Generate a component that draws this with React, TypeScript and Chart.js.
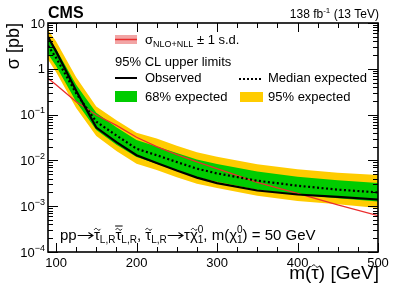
import React, { useEffect, useRef } from "react";
import { Chart, registerables } from "chart.js";

Chart.register(...registerables);

const FONT = '"Liberation Sans", Arial, Helvetica, sans-serif';

// Stau mass points (GeV)
const masses = [90, 100, 125, 150, 175, 200, 225, 250, 275, 300, 350, 400, 450, 500];
// 95% CL upper limits on the cross section (pb)
const observed = [5.0, 2.4, 0.33, 0.052, 0.025, 0.013, 0.0088, 0.006, 0.0042, 0.0032, 0.0022, 0.0018, 0.0016, 0.0014];
const expected = [3.2, 1.75, 0.29, 0.07, 0.035, 0.018, 0.013, 0.0092, 0.0066, 0.0052, 0.0036, 0.0028, 0.0023, 0.002];
const band68Up = [4.8, 2.7, 0.45, 0.11, 0.053, 0.028, 0.02, 0.0145, 0.0105, 0.0083, 0.0057, 0.0044, 0.0037, 0.0032];
const band68Down = [2.1, 1.15, 0.19, 0.046, 0.022, 0.0118, 0.0085, 0.006, 0.0043, 0.0034, 0.0023, 0.0018, 0.0015, 0.00126];
const band95Up = [7.0, 4.0, 0.65, 0.15, 0.075, 0.04, 0.03, 0.021, 0.015, 0.012, 0.0082, 0.0064, 0.0054, 0.0048];
const band95Down = [1.6, 0.85, 0.14, 0.034, 0.016, 0.0085, 0.0062, 0.0043, 0.0031, 0.0025, 0.0017, 0.0013, 0.0011, 0.00091];
// Theory cross section NLO+NLL (pb)
const theoryXsec = [0.62, 0.45, 0.19, 0.098, 0.058, 0.032, 0.02, 0.0134, 0.0093, 0.0066, 0.0033, 0.0019, 0.00107, 0.00062];

const xTickValues = [100, 200, 300, 400, 500];
const yTickValues = [1e-4, 1e-3, 1e-2, 1e-1, 1, 10];
const yTickBase = ["10", "10", "10", "10", "1", "10"];
const yTickExp = ["\u22124", "\u22123", "\u22122", "\u22121", "", ""];

const YELLOW = "#FFCC00";
const GREEN = "#00CC00";
const RED = "rgb(235,45,45)";
const PINK = "rgb(242,165,165)";

type Seg = {
  t?: string;
  size: number;
  dy?: number;
  bold?: boolean;
  acc?: "tilde" | "tildebar";
  sup?: string;
  sub?: string;
  arrow?: boolean;
};

function segWidth(ctx: CanvasRenderingContext2D, s: Seg) {
  ctx.font = `${s.bold ? "bold " : ""}${s.size}px ${FONT}`;
  if (s.arrow) return s.size * 1.15;
  if (s.sup !== undefined || s.sub !== undefined) {
    return Math.max(ctx.measureText(s.sup || "").width, ctx.measureText(s.sub || "").width);
  }
  return ctx.measureText(s.t || "").width;
}

function drawTilde(ctx: CanvasRenderingContext2D, cx: number, cy: number, w: number, amp: number) {
  ctx.beginPath();
  ctx.moveTo(cx - w / 2, cy + amp * 0.3);
  ctx.bezierCurveTo(cx - w / 4, cy - amp * 1.3, cx - w / 8, cy - amp * 0.6, cx, cy);
  ctx.bezierCurveTo(cx + w / 8, cy + amp * 0.6, cx + w / 4, cy + amp * 1.3, cx + w / 2, cy - amp * 0.3);
  ctx.stroke();
}

function drawRich(ctx: CanvasRenderingContext2D, segs: Seg[], x: number, y: number, align: "left" | "right" = "left") {
  let total = 0;
  for (const s of segs) total += segWidth(ctx, s);
  let cx = align === "right" ? x - total : x;
  ctx.textAlign = "left";
  ctx.textBaseline = "alphabetic";
  for (const s of segs) {
    const w = segWidth(ctx, s);
    ctx.font = `${s.bold ? "bold " : ""}${s.size}px ${FONT}`;
    if (s.arrow) {
      ctx.save();
      ctx.strokeStyle = "#000";
      ctx.lineWidth = 1.1;
      const ay = Math.round(y - s.size * 0.33) + 0.5;
      const x1 = cx + 1;
      const x2 = cx + w - 1;
      ctx.beginPath();
      ctx.moveTo(x1, ay);
      ctx.lineTo(x2, ay);
      ctx.moveTo(x2 - s.size * 0.3, ay - s.size * 0.2);
      ctx.lineTo(x2, ay);
      ctx.lineTo(x2 - s.size * 0.3, ay + s.size * 0.2);
      ctx.stroke();
      ctx.restore();
    } else if (s.sup !== undefined || s.sub !== undefined) {
      if (s.sup) ctx.fillText(s.sup, cx, y - s.size * 0.62);
      if (s.sub) ctx.fillText(s.sub, cx, y + s.size * 0.35);
    } else {
      ctx.fillText(s.t || "", cx, y + (s.dy || 0));
      if (s.acc) {
        ctx.save();
        ctx.lineWidth = 1;
        ctx.strokeStyle = "#000";
        const tcx = cx + w / 2 + 0.5;
        const ty = y + (s.dy || 0) - s.size * 0.68;
        drawTilde(ctx, tcx, ty, s.size * 0.42, s.size * 0.09);
        if (s.acc === "tildebar") {
          ctx.beginPath();
          ctx.moveTo(tcx - s.size * 0.25, ty - s.size * 0.22);
          ctx.lineTo(tcx + s.size * 0.25, ty - s.size * 0.22);
          ctx.stroke();
        }
        ctx.restore();
      }
    }
    cx += w;
  }
}

const overlayPlugin = {
  id: "overlay",
  afterDraw(chart: any) {
    const ctx: CanvasRenderingContext2D = chart.ctx;
    const a = chart.chartArea;
    const xs = chart.scales.x;
    const ys = chart.scales.y;
    ctx.save();
    ctx.fillStyle = "#000";
    ctx.strokeStyle = "#000";

    const line = (x1: number, y1: number, x2: number, y2: number) => {
      ctx.beginPath();
      ctx.moveTo(x1, y1);
      ctx.lineTo(x2, y2);
      ctx.stroke();
    };

    // ticks
    ctx.lineWidth = 1;
    for (let v = 100; v <= 500; v += 25) {
      const px = Math.round(xs.getPixelForValue(v)) + 0.5;
      const len = v % 100 === 0 ? 9 : 5;
      line(px, a.bottom, px, a.bottom - len);
      line(px, a.top, px, a.top + len);
    }
    for (let e = -4; e <= 1; e++) {
      for (let k = 1; k <= 9; k++) {
        const v = k * Math.pow(10, e);
        if (v > 10.0001) break;
        const py = Math.round(ys.getPixelForValue(v)) + 0.5;
        const len = k === 1 ? 10 : 5;
        line(a.left, py, a.left + len, py);
        line(a.right, py, a.right - len, py);
      }
    }
    // frame
    ctx.lineWidth = 1.6;
    ctx.strokeRect(a.left, a.top, a.right - a.left, a.bottom - a.top);

    // x tick labels
    ctx.font = `13px ${FONT}`;
    ctx.textAlign = "center";
    ctx.textBaseline = "alphabetic";
    for (const v of xTickValues) {
      ctx.fillText(String(v), xs.getPixelForValue(v), 267);
    }
    // y tick labels
    yTickValues.forEach((v, i) => {
      const py = ys.getPixelForValue(v);
      const segs: Seg[] = [{ t: yTickBase[i], size: 13 }];
      if (yTickExp[i]) segs.push({ t: yTickExp[i], size: 9, dy: -6 });
      drawRich(ctx, segs, 45, py + 4.6, "right");
    });

    // axis titles
    drawRich(ctx, [{ t: "m(", size: 19 }, { t: "\u03C4", size: 19, acc: "tilde" }, { t: ") [GeV]", size: 19 }], 379, 279, "right");
    ctx.save();
    ctx.translate(19, 23);
    ctx.rotate(-Math.PI / 2);
    drawRich(ctx, [{ t: "\u03C3 [pb]", size: 18 }], 0, 0, "right");
    ctx.restore();

    // header
    drawRich(ctx, [{ t: "CMS", size: 16, bold: true }], 48, 18);
    drawRich(ctx, [{ t: "138 fb", size: 12 }, { t: "-1", size: 8, dy: -5 }, { t: " (13 TeV)", size: 12 }], 379, 18, "right");

    // legend
    ctx.fillStyle = PINK;
    ctx.fillRect(115, 35, 22, 9);
    ctx.strokeStyle = RED;
    ctx.lineWidth = 1.5;
    line(115, 39.5, 137, 39.5);
    ctx.fillStyle = "#000";
    drawRich(ctx, [{ t: "\u03C3", size: 13 }, { t: "NLO+NLL", size: 9, dy: 3 }, { t: " \u00B1 1 s.d.", size: 13 }], 145, 44);
    drawRich(ctx, [{ t: "95% CL upper limits", size: 13 }], 115, 66);
    ctx.strokeStyle = "#000";
    ctx.lineWidth = 2;
    line(115, 78, 137, 78);
    drawRich(ctx, [{ t: "Observed", size: 13 }], 145, 82);
    ctx.setLineDash([2, 2]);
    line(239, 79, 263, 79);
    ctx.setLineDash([]);
    drawRich(ctx, [{ t: "Median expected", size: 13 }], 268, 82);
    ctx.fillStyle = GREEN;
    ctx.fillRect(115, 91, 22, 11);
    ctx.fillStyle = YELLOW;
    ctx.fillRect(240, 92, 23, 10);
    ctx.fillStyle = "#000";
    drawRich(ctx, [{ t: "68% expected", size: 13 }], 145, 101);
    drawRich(ctx, [{ t: "95% expected", size: 13 }], 268, 101);

    // process annotation
    const S = 15;
    const s = 10;
    const ann: Seg[] = [
      { t: "pp", size: S },
      { arrow: true, size: S },
      { t: "\u03C4", size: S, acc: "tilde" },
      { t: "L,R", size: s, dy: 3.5 },
      { t: "\u03C4", size: S, acc: "tildebar" },
      { t: "L,R", size: s, dy: 3.5 },
      { t: ", ", size: S },
      { t: "\u03C4", size: S, acc: "tilde" },
      { t: "L,R", size: s, dy: 3.5 },
      { arrow: true, size: S },
      { t: "\u03C4", size: S },
      { t: "\u03C7", size: S, acc: "tilde" },
      { size: s, sup: "0", sub: "1" },
      { t: ", m(", size: S },
      { t: "\u03C7", size: S },
      { size: s, sup: "0", sub: "1" },
      { t: ") = 50 GeV", size: S },
    ];
    drawRich(ctx, ann, 60, 239.5);

    ctx.restore();
  },
};

export default function App() {
  const ref = useRef<HTMLCanvasElement>(null);
  useEffect(() => {
    const canvas = ref.current!;
    const pts = (arr: number[]) => masses.map((m, i) => ({ x: m, y: arr[i] }));
    const base = { pointRadius: 0, tension: 0, showLine: true };
    const chart = new Chart(canvas, {
      type: "line",
      data: {
        datasets: [
          { ...base, label: "95% up", data: pts(band95Up), borderWidth: 0, borderColor: YELLOW, backgroundColor: YELLOW, fill: "+1", order: 10 },
          { ...base, label: "95% down", data: pts(band95Down), borderWidth: 0, borderColor: YELLOW, backgroundColor: YELLOW, fill: false, order: 10 },
          { ...base, label: "68% up", data: pts(band68Up), borderWidth: 0, borderColor: GREEN, backgroundColor: GREEN, fill: "+1", order: 8 },
          { ...base, label: "68% down", data: pts(band68Down), borderWidth: 0, borderColor: GREEN, backgroundColor: GREEN, fill: false, order: 8 },
          { ...base, label: "theory", data: pts(theoryXsec), borderWidth: 1.3, borderColor: RED, fill: false, order: 3 },
          { ...base, label: "expected", data: pts(expected), borderWidth: 2.2, borderColor: "#000", borderDash: [2, 2.5], fill: false, order: 2 },
          { ...base, label: "observed", data: pts(observed), borderWidth: 2.2, borderColor: "#000", fill: false, order: 1 },
        ] as any,
      },
      options: {
        animation: false,
        responsive: true,
        maintainAspectRatio: false,
        layout: { padding: { left: 48, top: 23, right: 21, bottom: 35 } },
        plugins: { legend: { display: false }, tooltip: { enabled: false } },
        events: [],
        scales: {
          x: { type: "linear", min: 90, max: 500, display: false },
          y: { type: "logarithmic", min: 1e-4, max: 10, display: false },
        },
      },
      plugins: [overlayPlugin],
    });
    return () => chart.destroy();
  }, []);
  return (
    <div style={{ position: "absolute", left: 0, top: 0, width: 399, height: 287, background: "#fff" }}>
      <canvas ref={ref} />
    </div>
  );
}
